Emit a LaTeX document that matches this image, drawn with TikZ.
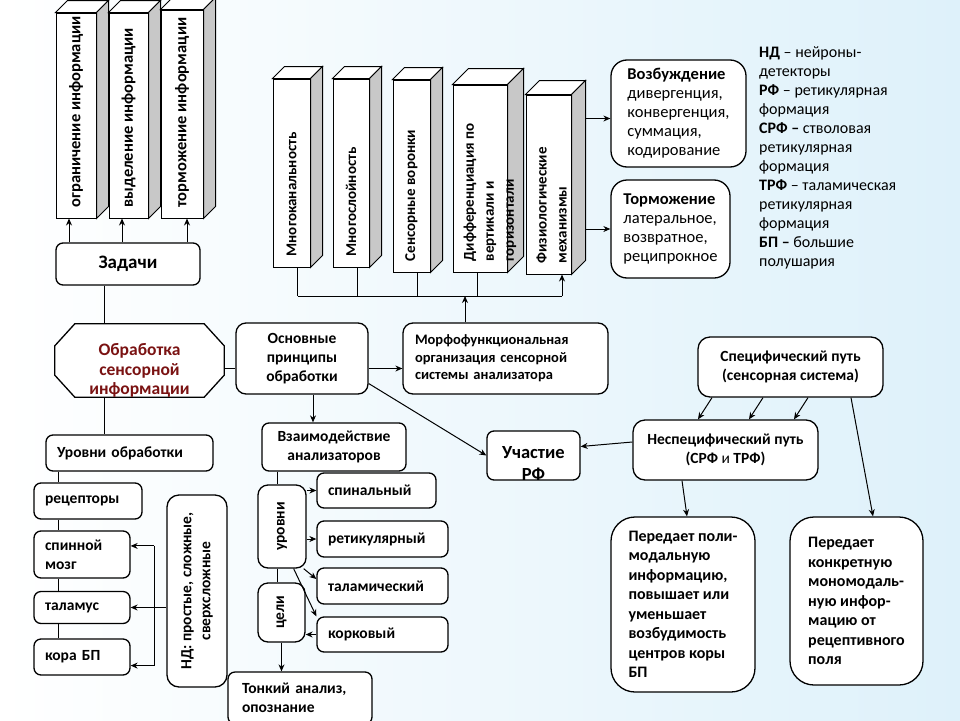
\documentclass[tikz,border=0pt]{standalone}
\usepackage{fontspec}
\setmainfont{Carlito}
\usetikzlibrary{arrows.meta}
\definecolor{bgright}{RGB}{222,241,250}
\definecolor{darkred}{RGB}{122,18,18}
\definecolor{sidegray}{RGB}{200,200,200}
\tikzset{
	box/.style={draw, fill=white, line width=1.3pt, rounded corners=7pt, inner sep=0pt, align=center, font=\bfseries\fontsize{15.5}{19}\selectfont},
	lbox/.style={box, align=left, inner xsep=11pt},
	front/.style={draw, fill=white, line width=1pt, inner sep=0pt},
	prismtext/.style={rotate=90, anchor=west, align=left, inner sep=2pt, font=\bfseries\fontsize{15}{20}\selectfont},
	rtext/.style={rotate=90, align=center, inner sep=0pt, font=\bfseries\fontsize{15.5}{19}\selectfont},
	link/.style={line width=1pt}
}
\begin{document}
\begin{tikzpicture}[x=1pt,y=-1pt,>={Stealth[length=7pt,width=6pt]}]
			\shade[left color=white,right color=bgright] (0,0) rectangle (960,720);
			\useasboundingbox (0,0) rectangle (960,720);
			
			\foreach \nm/\cx/\cy/\w/\h/\d/\ox/\txt in {
				lim/76/115.5/40/205/12/0/{\fontsize{16.5}{20}\selectfont ограничение информации},
				sel/128.5/115.5/39/205/12/0/{\fontsize{16.5}{20}\selectfont выделение информации},
				inh/182/114/42/208/12/0/{\fontsize{16.5}{20}\selectfont торможение информации},
				mch/291.5/173/37/188/12/0/{Многоканальность},
				mlay/351/173/36/188/12/0/{Многослойность},
				fun/411.5/176/37/192/12/0/{Сенсорные воронки},
				diff/480/178.5/54/187/16/10/{Дифференциация по\\вертикали и\\горизонтали},
				phys/548.5/184.5/45/179/14/3/{Физиологические\\механизмы}}
			{
				\node[front, minimum width=\w pt, minimum height=\h pt] (\nm) at (\cx,\cy) {};
				\filldraw[fill=white, line width=1pt] (\nm.north west) -- ++(\d,-\d) -- ([shift={(\d,-\d)}]\nm.north east) -- (\nm.north east) -- cycle;
				\filldraw[fill=sidegray, line width=1pt] (\nm.north east) -- ([shift={(\d,-\d)}]\nm.north east) -- ([shift={(\d,-\d)}]\nm.south east) -- (\nm.south east) -- cycle;
				\node[prismtext] (\nm-t) at ([shift={(\ox,-9)}]\nm.south) {\txt};
			}
			
			\node[box, font=\bfseries\fontsize{19}{22}\selectfont, minimum width=144pt, minimum height=42pt] (zad) at (128,264) {Задачи};
			\node[inner sep=0pt, minimum width=169pt, minimum height=73pt] (proc) at (139.5,360.5) {};
			\filldraw[fill=white, line width=1.3pt] ([xshift=20pt]proc.north west) -- ([xshift=-20pt]proc.north east) -- ([yshift=-22pt]proc.north east) -- ([yshift=22pt]proc.south east) -- ([xshift=-20pt]proc.south east) -- ([xshift=20pt]proc.south west) -- ([yshift=22pt]proc.south west) -- ([yshift=-22pt]proc.north west) -- cycle;
			\node[align=center, text=darkred, font=\bfseries\fontsize{17.5}{19.5}\selectfont] (proc-t) at ([yshift=-10pt]proc.center) {Обработка\\сенсорной\\информации};
			\node[box, rounded corners=10pt, minimum width=132pt, minimum height=71pt] (osn) at (302,358.5) {Основные\\принципы\\обработки};
			\node[lbox, rounded corners=10pt, font=\bfseries\fontsize{14.5}{17.5}\selectfont, inner xsep=12pt, text width=181pt, minimum height=71pt] (morph) at (505.5,358.5) {Морфофункциональная\\организация сенсорной\\системы анализатора};
			
			\node[lbox, text width=145pt, minimum height=36pt] (lev) at (129.5,453) {Уровни обработки};
			\node[lbox, text width=86pt, minimum height=36pt] (rec) at (88,501) {рецепторы};
			\node[lbox, text width=74pt, minimum height=47pt] (spin) at (82,554.5) {спинной\\мозг};
			\node[lbox, text width=74pt, minimum height=32pt] (thal) at (82,607.5) {таламус};
			\node[lbox, text width=74pt, minimum height=36pt] (kora) at (82,657) {кора БП};
			\node[box, rounded corners=12pt, minimum width=60pt, minimum height=192pt] (nd) at (197,591) {};
			\node[rtext] (nd-t) at (nd) {НД: простые, сложные,\\сверхсложные};
			
			\node[box, minimum width=144pt, minimum height=48pt] (inter) at (334,447) {Взаимодействие\\анализаторов};
			\node[box, rounded corners=10pt, minimum width=48pt, minimum height=83pt] (lvls) at (282,526.5) {};
			\node[rtext] (lvls-t) at (lvls) {уровни};
			\node[box, rounded corners=10pt, minimum width=47pt, minimum height=59pt] (goal) at (281.5,612.5) {};
			\node[rtext] (goal-t) at (goal) {цели};
			\node[lbox, text width=97pt, minimum height=35pt] (spinal) at (376.5,490.5) {спинальный};
			\node[lbox, text width=109pt, minimum height=36pt] (ret) at (382.5,539) {ретикулярный};
			\node[lbox, text width=109pt, minimum height=36pt] (thal2) at (382.5,586) {таламический};
			\node[lbox, text width=109pt, minimum height=35pt] (cort) at (382.5,634.5) {корковый};
			\node[lbox, inner xsep=14pt, text width=116pt, minimum height=52pt] (fine) at (300,698) {Тонкий анализ,\\опознание};
			
			\node[box, minimum width=93pt, minimum height=49pt] (rf) at (533.5,455.5) {};
			\node[align=center, font=\bfseries\fontsize{18.5}{22}\selectfont] (rf-t) at ([yshift=-8pt]rf.center) {Участие\\РФ};
			\node[box, rounded corners=12pt, minimum width=185pt, minimum height=60pt] (nspec) at (725.5,450) {Неспецифический путь\\(СРФ {\mdseries и} ТРФ)};
			\node[box, rounded corners=12pt, minimum width=185pt, minimum height=60pt] (spec) at (790.5,367) {Специфический путь\\(сенсорная система)};
			\node[box, rounded corners=24pt, align=left, font=\bfseries\fontsize{16}{19.5}\selectfont, minimum width=144pt, minimum height=175pt] (poly) at (683,604.5) {Передает поли-\\модальную\\информацию,\\повышает или\\уменьшает\\возбудимость\\центров коры\\БП};
			\node[box, rounded corners=24pt, align=left, font=\bfseries\fontsize{16}{19.5}\selectfont, minimum width=133pt, minimum height=168pt] (mono) at (856.5,601) {Передает\\конкретную\\мономодаль-\\ную инфор-\\мацию от\\рецептивного\\поля};
			
			\node[box, rounded corners=16pt, align=left, font=\fontsize{16.5}{19}\selectfont, minimum width=135pt, minimum height=107pt] (exc) at (678.5,113.5) {\textbf{Возбуждение}\\дивергенция,\\конвергенция,\\суммация,\\кодирование};
			\node[box, rounded corners=16pt, align=left, font=\fontsize{16.5}{19}\selectfont, minimum width=119pt, minimum height=98pt] (inh2) at (670.5,229) {\textbf{Торможение}\\латеральное,\\возвратное,\\реципрокное};
			\node[anchor=north west, inner sep=0pt, align=left, font=\fontsize{16}{19}\selectfont] (legend) at (759,46) {\textbf{НД} – нейроны-\\детекторы\\\textbf{РФ} – ретикулярная\\формация\\\textbf{СРФ –} стволовая\\ретикулярная\\формация\\\textbf{ТРФ} – таламическая\\ретикулярная\\формация\\\textbf{БП –} большие\\полушария};
			
			\draw[link,->] ([xshift=-7pt]lim.south |- zad.north) -- ([xshift=-7pt]lim.south);
			\draw[link,->] ([xshift=-6.5pt]sel.south |- zad.north) -- ([xshift=-6.5pt]sel.south);
			\draw[link,->] ([xshift=5pt]inh.south |- zad.north) -- ([xshift=5pt]inh.south);
			
			\coordinate (spine) at (104,0);
			\draw[link] (zad.south -| spine) -- (proc.north -| spine);
			\draw[link] (proc.south -| spine) -- (lev.north -| spine);
			\draw[link] ([yshift=-10pt]osn.west) -- ([yshift=-10pt]osn.west -| proc.east);
			\draw[link,->] ([yshift=-10pt]osn.east) -- ([yshift=-10pt]morph.west);
			\draw[link,->] ([xshift=11pt]osn.south) -- ([xshift=11pt]osn.south |- inter.north);
			\draw[link,->] ([yshift=-25pt]osn.east) -- (rf.west);
			
			\coordinate (bus) at (0,296);
			\foreach \b/\s in {mch/6,mlay/6,fun/6,diff/-3}
				\draw[link] ([xshift=\s pt]\b.south) -- ([xshift=\s pt]\b.south |- bus);
			\draw[link] ([xshift=6pt]mch.south |- bus) -- ([xshift=13.5pt]phys.south |- bus);
			\draw[link,->] ([xshift=13.5pt]phys.south |- bus) -- ([xshift=13.5pt]phys.south);
			\draw[link,->] ([xshift=-40.5pt]morph.north) -- ([xshift=-40.5pt]morph.north |- bus);
			
			\coordinate (pside) at ([xshift=14pt]phys.east);
			\draw[link,->] ([yshift=-5pt]pside |- exc.west) -- ([yshift=-5pt]exc.west);
			\draw[link,->] (pside |- inh2.west) -- (inh2.west);
			
			\coordinate (lvl) at (58,0);
			\foreach \a/\b in {lev/rec,rec/spin,spin/thal,thal/kora}
				\draw[link] (\a.south -| lvl) -- (\b.north -| lvl);
			\coordinate (ndbus) at (154,0);
			\draw[link] (ndbus |- spin.10) -- (ndbus |- kora.-10);
			\draw[link,->] (ndbus |- spin.10) -- (spin.10);
			\draw[link,->] (nd.west |- thal.east) -- (thal.east);
			\draw[link,->] (ndbus |- kora.-10) -- (kora.-10);
			
			\coordinate (ix) at (277,0);
			\draw[link] (inter.south -| ix) -- (lvls.north -| ix);
			\draw[link] (lvls.south -| ix) -- (goal.north -| ix);
			\draw[link,->] (lvls.east |- spinal.west) -- (spinal.west);
			\draw[link,->] (lvls.east |- ret.west) -- (ret.west);
			\draw[link,->] ([xshift=-3pt]lvls.south east) -- ([yshift=7pt]thal2.west);
			\draw[link,->] ([xshift=-13pt]lvls.south east) -- (cort.north west);
			\draw[link,->] (cort.west) -- (cort.west -| goal.east);
			\draw[link,->] (goal.south) -- (goal.south |- fine.north);
			
			\foreach \a/\b in {-78.5/-27.5,-27.5/23.5,17.5/68.5}
				\draw[link,->] ([xshift=\a pt]spec.south) -- ([xshift=\b pt]nspec.north);
			\draw[link,->] ([xshift=60.5pt]spec.south) -- ([xshift=16.5pt]mono.north);
			\draw[link,->] ([xshift=-43.5pt]nspec.south) -- ([xshift=4pt]poly.north);
			\draw[link,->] ([yshift=8pt]nspec.west) -- ([yshift=9pt]rf.east);
		\end{tikzpicture}
\end{document}
